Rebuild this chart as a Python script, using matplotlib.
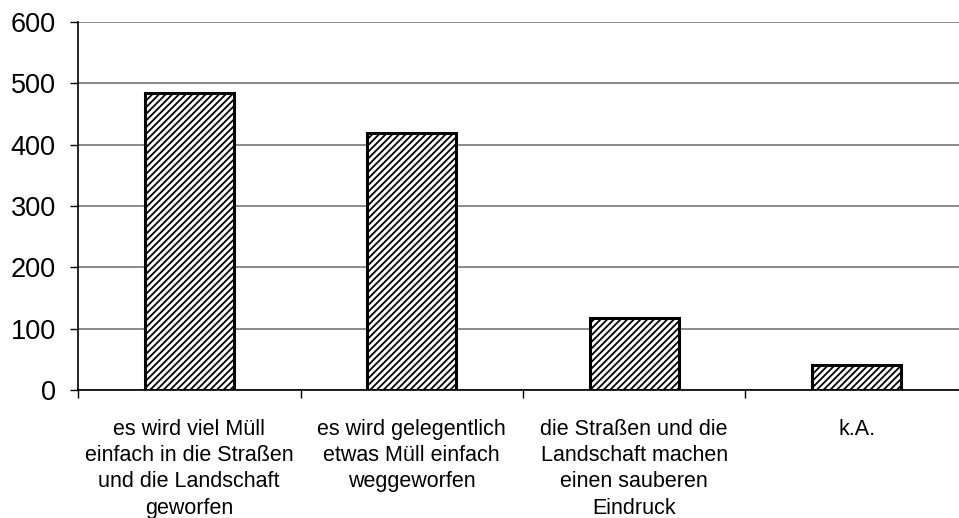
import matplotlib
matplotlib.use("Agg")
import matplotlib.pyplot as plt
import numpy as np

categories = [
    "es wird viel Müll\neinfach in die Straßen\nund die Landschaft\ngeworfen",
    "es wird gelegentlich\netwas Müll einfach\nweggeworfen",
    "die Straßen und die\nLandschaft machen\neinen sauberen\nEindruck",
    "k.A.",
]
values = [485, 419, 118, 40]
yticks = [0, 100, 200, 300, 400, 500, 600]

plt.rcParams["font.family"] = ["Liberation Sans", "DejaVu Sans"]
plt.rcParams["hatch.linewidth"] = 1.3

fig = plt.figure(figsize=(9.59, 5.18), dpi=100)
ax = fig.add_axes([78 / 959, 128 / 518, 890 / 959, 368 / 518])

x = np.arange(len(categories))
ax.bar(x, values, width=0.4, facecolor="white", edgecolor="black",
       hatch="/////", linewidth=2.2, zorder=3)

ax.set_xlim(-0.5, len(categories) - 0.5)
ax.set_ylim(0, 600)
ax.set_yticks(yticks)
ax.tick_params(axis="y", labelsize=19.5, length=6, width=1, pad=10,
               direction="out", color="black")
ax.yaxis.grid(True, color="#808080", linewidth=1.3, zorder=0)

# category boundaries as major ticks, labels on minor ticks
ax.set_xticks(np.arange(-0.5, len(categories) - 0.5, 1.0))
ax.set_xticklabels([])
ax.set_xticks(x, minor=True)
ax.set_xticklabels(categories, minor=True, fontsize=15.5, linespacing=1.32)
ax.tick_params(axis="x", which="major", length=6, width=1, direction="out")
ax.tick_params(axis="x", which="minor", length=0, pad=21)

for side in ["top", "right"]:
    ax.spines[side].set_visible(False)
ax.spines["left"].set_linewidth(1.2)
ax.spines["bottom"].set_linewidth(1.2)
ax.set_axisbelow(True)

fig.savefig("out.png", dpi=100)
